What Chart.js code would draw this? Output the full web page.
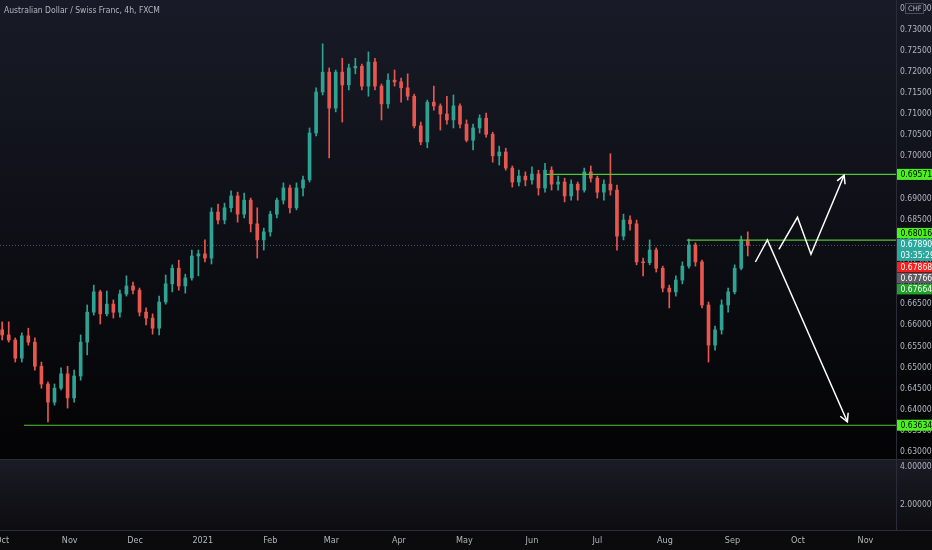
<!DOCTYPE html>
<html><head><meta charset="utf-8">
<script src="https://cdn.jsdelivr.net/npm/chart.js@4.4.1/dist/chart.umd.min.js"></script>
<style>
html,body{margin:0;padding:0;background:#000;overflow:hidden}
#wrap{width:932px;height:550px;position:relative}
canvas{display:block;position:absolute;left:0}
#main{top:0}
#sub{top:460px}
</style></head><body>
<div id="wrap"><canvas id="main" width="932" height="460"></canvas><canvas id="sub" width="932" height="90"></canvas></div>
<script>
const title = 'Australian Dollar / Swiss Franc, 4h, FXCM';
// candle positions: days since 2020-10-01
const days = [0,3,6,9,12,15,18,21,24,27,30,33,36,39,42,45,48,51,54,57,60,63,66,69,72,75,78,81,84,87,90,93,96,99,102,105,108,111,114,117,120,123,126,129,132,135,138,141,144,147,150,153,156,159,162,165,168,171,174,177,180,183,186,189,192,195,198,201,204,207,210,213,216,219,222,225,228,231,234,237,240,243,246,249,252,255,258,261,264,267,270,273,276,279,282,285,288,291,294,297,300,303,306,309,312,315,318,321,324,327,330,333,336,339,342];
const opens = [0.6589,0.6577,0.6565,0.6522,0.6575,0.6560,0.6503,0.6461,0.6418,0.6451,0.6485,0.6428,0.6480,0.6560,0.6631,0.6679,0.6627,0.6650,0.6631,0.6674,0.6693,0.6683,0.6631,0.6617,0.6593,0.6655,0.6698,0.6735,0.6693,0.6712,0.6764,0.6769,0.6759,0.6868,0.6849,0.6878,0.6906,0.6863,0.6896,0.6840,0.6802,0.6821,0.6863,0.6896,0.6925,0.6878,0.6925,0.6944,0.7055,0.7152,0.7199,0.7114,0.7199,0.7169,0.7209,0.7213,0.7166,0.7223,0.7166,0.7124,0.7180,0.7176,0.7162,0.7142,0.7072,0.7034,0.7128,0.7119,0.7100,0.7086,0.7119,0.7076,0.7038,0.7067,0.7090,0.7052,0.7001,0.7010,0.6972,0.6939,0.6953,0.6944,0.6958,0.6925,0.6967,0.6934,0.6939,0.6906,0.6934,0.6920,0.6963,0.6948,0.6915,0.6934,0.6920,0.6811,0.6849,0.6840,0.6750,0.6748,0.6778,0.6735,0.6688,0.6679,0.6707,0.6740,0.6790,0.6750,0.6648,0.6553,0.6589,0.6648,0.6679,0.6735,0.6802];
const highs = [0.6608,0.6608,0.6570,0.6582,0.6593,0.6570,0.6513,0.6466,0.6461,0.6499,0.6503,0.6494,0.6577,0.6648,0.6695,0.6683,0.6681,0.6660,0.6683,0.6717,0.6702,0.6688,0.6641,0.6627,0.6669,0.6719,0.6743,0.6754,0.6721,0.6778,0.6778,0.6802,0.6878,0.6887,0.6889,0.6918,0.6915,0.6913,0.6901,0.6878,0.6830,0.6870,0.6901,0.6937,0.6932,0.6937,0.6953,0.7067,0.7162,0.7266,0.7209,0.7204,0.7232,0.7218,0.7232,0.7218,0.7247,0.7232,0.7171,0.7195,0.7204,0.7185,0.7195,0.7147,0.7081,0.7133,0.7166,0.7124,0.7142,0.7145,0.7124,0.7086,0.7076,0.7098,0.7102,0.7057,0.7024,0.7019,0.6977,0.6967,0.6963,0.6975,0.6967,0.6983,0.6975,0.6953,0.6948,0.6944,0.6939,0.6972,0.6977,0.6953,0.6944,0.7006,0.6932,0.6863,0.6859,0.6849,0.6759,0.6802,0.6783,0.6740,0.6695,0.6717,0.6750,0.6804,0.6795,0.6754,0.6655,0.6598,0.6660,0.6688,0.6743,0.6811,0.6821];
const lows = [0.6565,0.6560,0.6513,0.6513,0.6553,0.6494,0.6451,0.6371,0.6411,0.6447,0.6404,0.6418,0.6470,0.6530,0.6624,0.6603,0.6622,0.6617,0.6619,0.6669,0.6674,0.6622,0.6601,0.6579,0.6577,0.6650,0.6679,0.6683,0.6676,0.6707,0.6717,0.6750,0.6745,0.6840,0.6840,0.6868,0.6844,0.6854,0.6821,0.6759,0.6778,0.6811,0.6854,0.6887,0.6866,0.6873,0.6906,0.6939,0.7048,0.7145,0.6996,0.7105,0.7081,0.7157,0.7195,0.7157,0.7142,0.7157,0.7086,0.7114,0.7166,0.7128,0.7133,0.7067,0.7027,0.7020,0.7109,0.7062,0.7076,0.7067,0.7067,0.7034,0.7015,0.7055,0.7045,0.6986,0.6979,0.6967,0.6927,0.6930,0.6930,0.6934,0.6908,0.6915,0.6920,0.6920,0.6892,0.6896,0.6896,0.6915,0.6939,0.6901,0.6896,0.6908,0.6778,0.6802,0.6825,0.6743,0.6717,0.6743,0.6726,0.6679,0.6641,0.6669,0.6698,0.6735,0.6740,0.6641,0.6513,0.6541,0.6579,0.6631,0.6674,0.6731,0.6764];
const closes = [0.6577,0.6565,0.6522,0.6575,0.6560,0.6503,0.6461,0.6418,0.6451,0.6485,0.6428,0.6480,0.6560,0.6631,0.6679,0.6627,0.6650,0.6631,0.6674,0.6693,0.6683,0.6631,0.6617,0.6593,0.6655,0.6698,0.6735,0.6693,0.6712,0.6764,0.6769,0.6759,0.6868,0.6849,0.6878,0.6906,0.6863,0.6896,0.6840,0.6802,0.6821,0.6863,0.6896,0.6925,0.6878,0.6925,0.6944,0.7055,0.7152,0.7199,0.7114,0.7199,0.7169,0.7209,0.7213,0.7166,0.7223,0.7166,0.7124,0.7180,0.7176,0.7162,0.7142,0.7072,0.7034,0.7128,0.7119,0.7100,0.7086,0.7119,0.7076,0.7038,0.7067,0.7090,0.7052,0.7001,0.7010,0.6972,0.6939,0.6953,0.6944,0.6958,0.6925,0.6967,0.6934,0.6939,0.6906,0.6934,0.6920,0.6963,0.6948,0.6915,0.6934,0.6920,0.6811,0.6849,0.6840,0.6750,0.6748,0.6778,0.6735,0.6688,0.6679,0.6707,0.6740,0.6790,0.6750,0.6648,0.6553,0.6589,0.6648,0.6679,0.6735,0.6802,0.6789];

const priceTicks = [0.630,0.635,0.640,0.645,0.650,0.655,0.660,0.665,0.670,0.675,0.680,0.685,0.690,0.695,0.700,0.705,0.710,0.715,0.720,0.725,0.730,0.735];
const monthDays = [0,31,61,92,123,151,182,212,243,273,304,335,365,396];
const monthLabels = ['Oct','Nov','Dec','2021','Feb','Mar','Apr','May','Jun','Jul','Aug','Sep','Oct','Nov'];
const levelPrices = [0.69571,0.68016,0.63634];
const levelStartDays = [249,314,10];
const lastPrice = 0.67890;
const countdown = '03:35:29';
const extraLabelPrices = [0.67868,0.67766,0.67664];
const arrowDownDays = [345.5,351,387.7];
const arrowDownPrices = [0.67497,0.68018,0.63717];
const arrowUpDays = [356.3,364.8,371,386.2];
const arrowUpPrices = [0.67798,0.68555,0.67682,0.69549];
const lowerTicks = [2,4];

const X_MIN = -1, X_MAX = 410;
const UP = '#2ea394', DOWN = '#e8574f';
const LINE_GREEN = '#52c435';
const FONT = "'Liberation Sans Narrow','DejaVu Sans Condensed','Arial Narrow',sans-serif";
const TXT = '#b2b5be';

const candleColor = ctx => (closes[ctx.dataIndex] >= opens[ctx.dataIndex] ? UP : DOWN);

const datasets = [
  {type:'line', label:'price line', order:6, data:[{x:X_MIN,y:lastPrice},{x:X_MAX,y:lastPrice}],
   borderColor:'#4a5a6e', borderWidth:1, borderDash:[1,2], pointRadius:0},
  {type:'bar', label:'wick', order:5, grouped:false, barThickness:1,
   data: days.map((d,i)=>({x:d,y:[lows[i],highs[i]]})), backgroundColor:candleColor},
  {type:'bar', label:'body', order:4, grouped:false, barThickness:3,
   data: days.map((d,i)=>({x:d,y:[opens[i],closes[i]]})), backgroundColor:candleColor}
];
levelPrices.forEach((p,i)=>{
  datasets.push({type:'line', label:'level '+p, order:2,
    data:[{x:levelStartDays[i],y:p},{x:X_MAX,y:p}],
    borderColor:LINE_GREEN, borderWidth:1.2, pointRadius:0});
});
datasets.push({type:'line', label:'arrowDown', order:1,
  data: arrowDownDays.map((d,i)=>({x:d,y:arrowDownPrices[i]})),
  borderColor:'#ffffff', borderWidth:1.5, pointRadius:0, tension:0});
datasets.push({type:'line', label:'arrowUp', order:1,
  data: arrowUpDays.map((d,i)=>({x:d,y:arrowUpPrices[i]})),
  borderColor:'#ffffff', borderWidth:1.5, pointRadius:0, tension:0});

function labelBox(ctx, top, h, fill, lines, color){
  ctx.save();
  ctx.fillStyle = fill;
  ctx.fillRect(897, top, 35, h);
  ctx.fillStyle = color;
  ctx.font = '8.5px ' + FONT;
  ctx.textAlign = 'left';
  ctx.textBaseline = 'middle';
  const lh = h / lines.length;
  lines.forEach((t,i)=> ctx.fillText(t, 900.5, top + lh*i + lh/2 + 0.5));
  ctx.restore();
}

const mainPlugin = {
  id:'mainDeco',
  beforeDraw(chart){
    const ctx = chart.ctx;
    const g = ctx.createLinearGradient(0,0,0,460);
    g.addColorStop(0,'#181b27');
    g.addColorStop(0.55,'#0d0e14');
    g.addColorStop(1,'#030304');
    ctx.save(); ctx.fillStyle = g; ctx.fillRect(0,0,932,460); ctx.restore();
  },
  afterDatasetsDraw(chart){
    const ctx = chart.ctx;
    const xs = chart.scales.x, ys = chart.scales.y;
    const heads = [[arrowDownDays,arrowDownPrices],[arrowUpDays,arrowUpPrices]];
    ctx.save();
    ctx.strokeStyle = '#ffffff'; ctx.lineWidth = 1.5;
    heads.forEach(([dx,py])=>{
      const n = dx.length;
      const x2 = xs.getPixelForValue(dx[n-1]), y2 = ys.getPixelForValue(py[n-1]);
      const x1 = xs.getPixelForValue(dx[n-2]), y1 = ys.getPixelForValue(py[n-2]);
      const a = Math.atan2(y2-y1, x2-x1);
      const L = 9, s = 0.5;
      ctx.beginPath();
      ctx.moveTo(x2 - L*Math.cos(a-s), y2 - L*Math.sin(a-s));
      ctx.lineTo(x2, y2);
      ctx.lineTo(x2 - L*Math.cos(a+s), y2 - L*Math.sin(a+s));
      ctx.stroke();
    });
    ctx.restore();
  },
  afterDraw(chart){
    const ctx = chart.ctx;
    const ys = chart.scales.y;
    ctx.save();
    ctx.fillStyle = '#2a2d38';
    ctx.fillRect(896,0,1,460);
    ctx.fillRect(0,459,932,1);
    // title
    ctx.fillStyle = TXT;
    ctx.font = '8.5px ' + FONT;
    ctx.textBaseline = 'middle';
    ctx.textAlign = 'left';
    ctx.fillText(title, 4, 11);
    // currency box
    ctx.fillStyle = '#181b27';
    ctx.fillRect(905,3,19,11);
    ctx.strokeStyle = '#4a4e5a'; ctx.lineWidth = 1;
    ctx.strokeRect(905.5,3.5,18,10);
    ctx.fillStyle = TXT;
    ctx.font = '7.5px ' + FONT;
    ctx.fillText('CHF', 908, 9);
    ctx.restore();
    // price labels
    const pLast = ys.getPixelForValue(lastPrice);
    const tealTop = pLast - 6.5, tealH = 22;
    labelBox(ctx, ys.getPixelForValue(levelPrices[0]) - 5.5, 11, '#4cf01e', [levelPrices[0].toFixed(5)], '#000');
    labelBox(ctx, tealTop - 11, 10.5, '#4cf01e', [levelPrices[1].toFixed(5)], '#000');
    labelBox(ctx, ys.getPixelForValue(levelPrices[2]) - 5.5, 11, '#4cf01e', [levelPrices[2].toFixed(5)], '#000');
    labelBox(ctx, tealTop, tealH, '#2aa89c', [lastPrice.toFixed(5), countdown], '#ffffff');
    const fills = ['#f2201f','#5d5d63','#1fa12a'];
    extraLabelPrices.forEach((p,i)=>{
      labelBox(ctx, tealTop + tealH + 1 + i*11, 10.5, fills[i], [p.toFixed(5)], '#ffffff');
    });
  }
};

new Chart(document.getElementById('main'), {
  type:'bar',
  data:{datasets},
  plugins:[mainPlugin],
  options:{
    responsive:false, animation:false,
    layout:{padding:0},
    plugins:{legend:{display:false}, tooltip:{enabled:false}},
    scales:{
      x:{type:'linear', min:X_MIN, max:X_MAX, offset:false, display:false},
      y:{type:'linear', position:'right', min:0.62811, max:0.73698,
        afterBuildTicks: s => { s.ticks = priceTicks.map(v=>({value:v})); },
        afterFit: s => { s.width = 36; s.paddingTop = 0; s.paddingBottom = 0; },
        grid:{display:false, drawTicks:false}, border:{display:false},
        ticks:{padding:4, color:TXT, font:{family:FONT, size:8.5}, autoSkip:false,
          callback: v => Number(v).toFixed(5)}
      }
    }
  }
});

const subPlugin = {
  id:'subDeco',
  beforeDraw(chart){
    const ctx = chart.ctx;
    const g = ctx.createLinearGradient(0,0,0,70);
    g.addColorStop(0,'#1a1b24');
    g.addColorStop(1,'#0d0d11');
    ctx.save();
    ctx.fillStyle = g; ctx.fillRect(0,0,932,70);
    ctx.fillStyle = '#0b0b0e'; ctx.fillRect(0,70,932,20);
    ctx.restore();
  },
  afterDraw(chart){
    const ctx = chart.ctx;
    ctx.save();
    ctx.fillStyle = '#2a2d38';
    ctx.fillRect(896,0,1,70);
    ctx.fillRect(0,70,932,1);
    ctx.restore();
  }
};

new Chart(document.getElementById('sub'), {
  type:'line',
  data:{datasets:[]},
  plugins:[subPlugin],
  options:{
    responsive:false, animation:false,
    layout:{padding:0},
    plugins:{legend:{display:false}, tooltip:{enabled:false}},
    scales:{
      x:{type:'linear', min:X_MIN, max:X_MAX, offset:false,
        afterBuildTicks: s => { s.ticks = monthDays.map(v=>({value:v})); },
        afterFit: s => { s.height = 20; s.paddingLeft = 0; s.paddingRight = 0; },
        grid:{display:false, drawTicks:false}, border:{display:false},
        ticks:{padding:5, color:TXT, font:{family:FONT, size:9}, autoSkip:false, maxRotation:0,
          callback: v => monthLabels[monthDays.indexOf(v)]}
      },
      y:{type:'linear', position:'right', min:0.684, max:4.368,
        afterBuildTicks: s => { s.ticks = lowerTicks.map(v=>({value:v})); },
        afterFit: s => { s.width = 36; s.paddingTop = 0; s.paddingBottom = 0; },
        grid:{display:false, drawTicks:false}, border:{display:false},
        ticks:{padding:4, color:TXT, font:{family:FONT, size:8.5}, autoSkip:false,
          callback: v => Number(v).toFixed(5)}
      }
    }
  }
});
</script>
</body></html>
